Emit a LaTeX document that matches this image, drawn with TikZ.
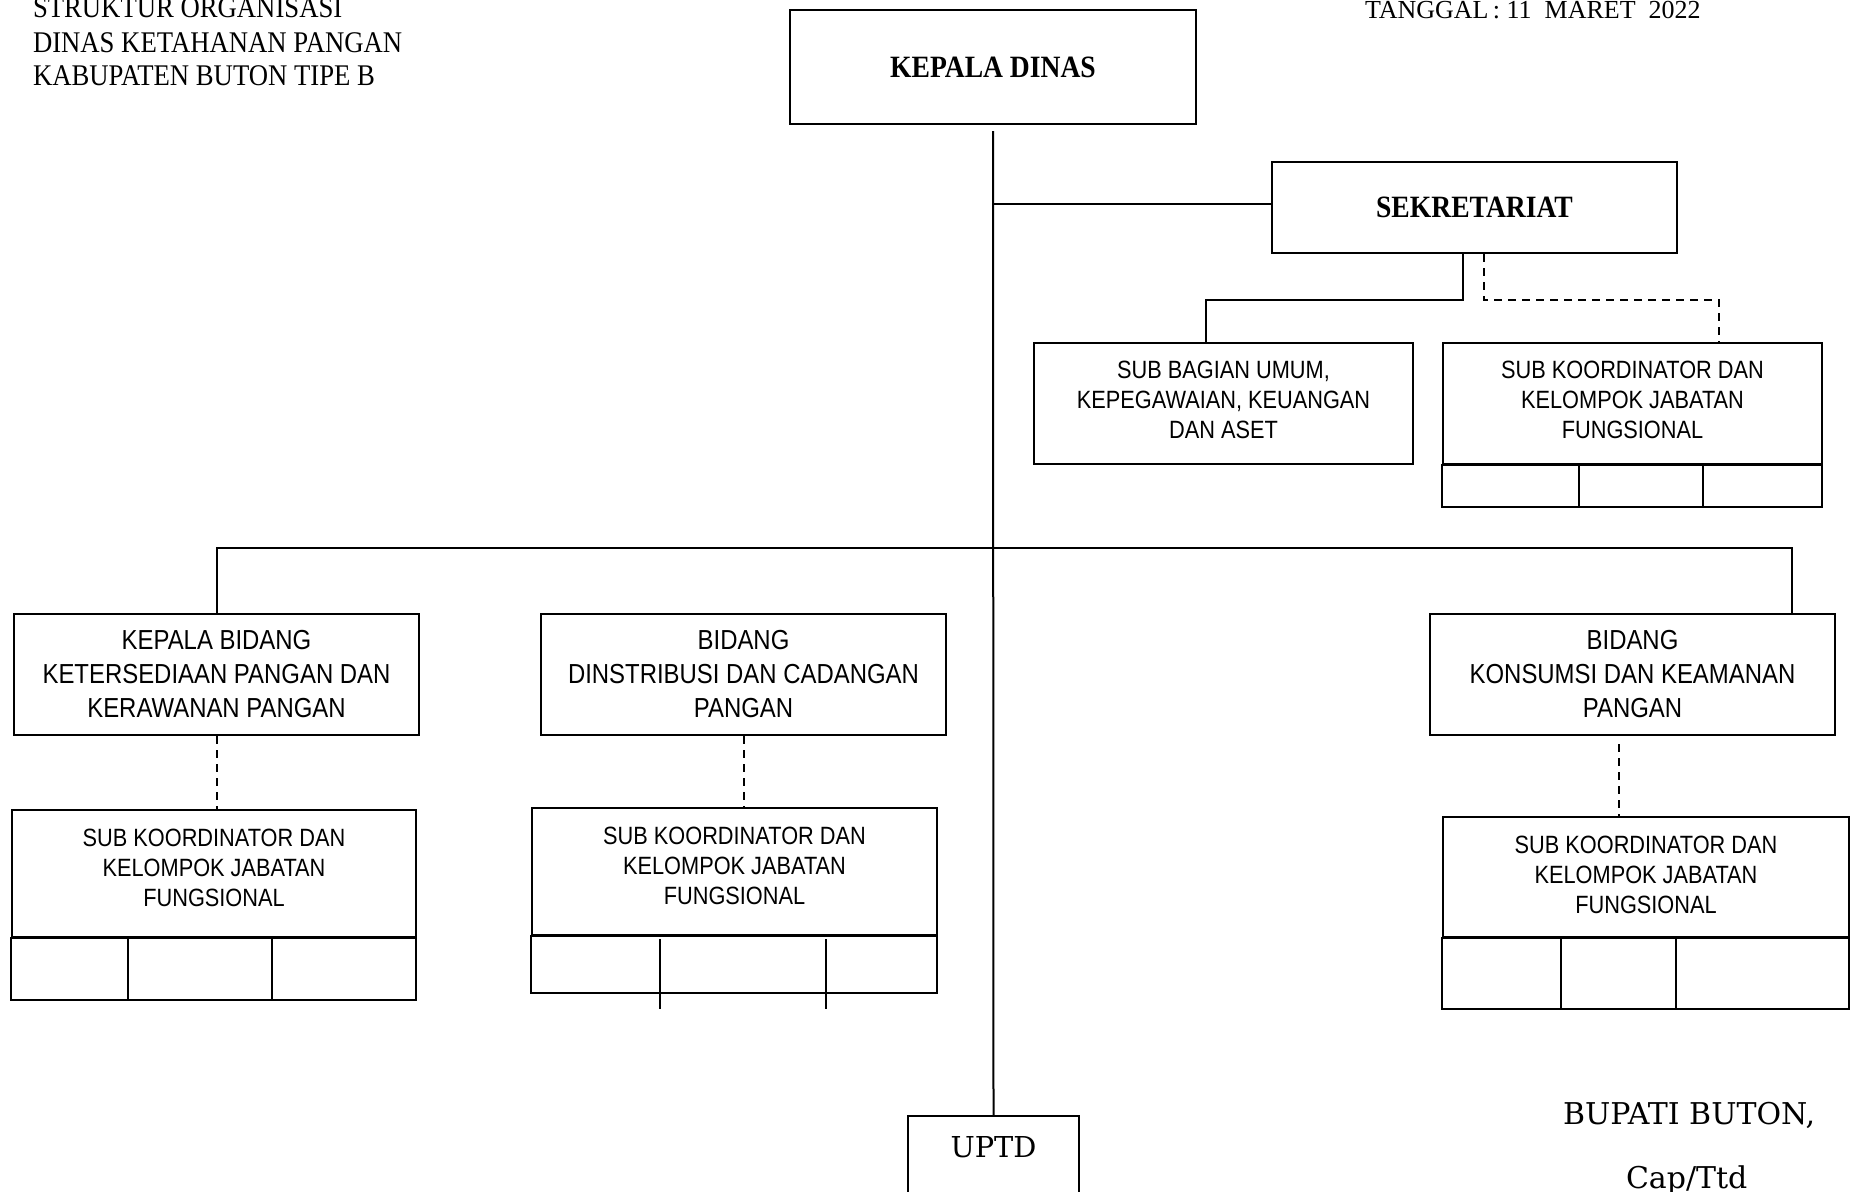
\documentclass[tikz,border=0pt]{standalone}
\usepackage{fontspec}
\setmainfont{Liberation Serif}
\newfontfamily\arialn[FakeStretch=0.87]{Liberation Sans}
\newfontfamily\cambria[FakeStretch=0.89]{Liberation Serif}
\newfontfamily\bookman{DejaVu Serif}
\usetikzlibrary{calc}
\tikzstyle{every path}=[line width=1pt]
\tikzstyle{kotak}=[draw, inner sep=0pt, align=center]
\tikzstyle{pimpinan}=[kotak, font=\cambria\bfseries\fontsize{15.5}{18}\selectfont]
\tikzstyle{bidang}=[kotak, minimum width=202.5pt, minimum height=60.5pt, font=\arialn\fontsize{13.75}{17}\selectfont]
\tikzstyle{subkoor}=[kotak, text depth=5pt, font=\arialn\fontsize{12.5}{15}\selectfont]
\tikzstyle{judul}=[anchor=base west, inner sep=0pt, font=\cambria\fontsize{15}{17}\selectfont]
\tikzstyle{ttd}=[anchor=base west, inner sep=0pt, font=\bookman\fontsize{15}{17}\selectfont]
\tikzstyle{putus}=[dash pattern=on 4pt off 3pt]

\begin{document}
\begin{tikzpicture}[x=0.5pt,y=-0.5pt]
          \useasboundingbox (0,0) rectangle (1852,1191);
          %judul
          \node[judul] (judul1) at (32,17) {STRUKTUR ORGANISASI};
          \node[judul] (judul2) at (32,52) {DINAS KETAHANAN PANGAN};
          \node[judul] (judul3) at (32,85) {KABUPATEN BUTON TIPE B};
          \node[judul, font=\rmfamily\fontsize{13}{15}\selectfont] (tanggal) at (1364,18) {TANGGAL\,: 11~~MARET~~2022};
          %pimpinan
          \node[pimpinan, minimum width=203pt, minimum height=57pt] (kadis) at (993,67) {KEPALA DINAS};
          \node[pimpinan, minimum width=202.5pt, minimum height=45.5pt] (sekr) at (1474.5,207.5) {SEKRETARIAT};
          %sekretariat
          \node[subkoor, text depth=3.5pt, minimum width=189.5pt, minimum height=60.5pt] (subum) at (1223.5,403.5) {SUB BAGIAN UMUM,\\KEPEGAWAIAN, KEUANGAN\\DAN ASET};
          \node[subkoor, text depth=3.5pt, minimum width=189.5pt, minimum height=60.5pt] (sksek) at (1632.5,403.5) {SUB KOORDINATOR DAN\\KELOMPOK JABATAN\\FUNGSIONAL};
          \draw (sksek.south west) rectangle (1822,507);
          \foreach \x in {1579,1703} \draw (\x,464) -- (\x,507);
          %bidang
          \node[bidang] (kabid1) at (216.5,674.5) {KEPALA BIDANG\\KETERSEDIAAN PANGAN DAN\\KERAWANAN PANGAN};
          \node[bidang] (bid2) at (743.5,674.5) {BIDANG\\DINSTRIBUSI DAN CADANGAN\\PANGAN};
          \node[bidang] (bid3) at (1632.5,674.5) {BIDANG\\KONSUMSI DAN KEAMANAN\\PANGAN};
          %sub koordinator
          \node[subkoor, text depth=6pt, minimum width=202pt, minimum height=63.5pt] (sk1) at (214,873.5) {SUB KOORDINATOR DAN\\KELOMPOK JABATAN\\FUNGSIONAL};
          \draw (sk1.south west) rectangle (416,1000);
          \foreach \x in {128,272} \draw (\x,937) -- (\x,1000);
          \node[subkoor, text depth=6pt, minimum width=202.5pt, minimum height=63.5pt] (sk2) at (734.5,871.5) {SUB KOORDINATOR DAN\\KELOMPOK JABATAN\\FUNGSIONAL};
          \draw (sk2.south west) rectangle (937,993);
          \foreach \x in {660,826} \draw (\x,939) -- (\x,1009);
          \node[subkoor, text depth=2pt, minimum width=203pt, minimum height=60pt] (sk3) at (1646,877) {SUB KOORDINATOR DAN\\KELOMPOK JABATAN\\FUNGSIONAL};
          \draw (sk3.south west) rectangle (1849,1009);
          \foreach \x in {1561,1676} \draw (\x,937) -- (\x,1009);
          %uptd
          \node[kotak, anchor=north, minimum width=85.5pt, inner ysep=10pt, text depth=40pt, font=\bookman\fontsize{14.4}{17}\selectfont] (uptd) at (993.5,1115) {UPTD};
          %tanda tangan
          \node[ttd] (bupati) at (1562,1124) {BUPATI BUTON,};
          \node[ttd] (capttd) at (1625,1188) {Cap/Ttd};
          %garis komando
          \draw ([yshift=-3pt]kadis.south) -- (uptd.north);
          \draw ([yshift=1.75pt]kadis.south |- sekr.west) -- ([yshift=1.75pt]sekr.west);
          \draw ([xshift=-5.75pt]sekr.south) -- ++(0,-23pt) -| ([xshift=-8.75pt]subum.north);
          \draw (kabid1.north) -- ++(0,32.5pt) -| ([xshift=79.75pt]bid3.north);
          %garis koordinasi
          \draw[putus] ([xshift=4.75pt]sekr.south) -- ++(0,-23pt) -| ([xshift=43.25pt]sksek.north);
          \draw[putus] (kabid1.south) -- (kabid1.south |- sk1.north);
          \draw[putus] (bid2.south) -- (bid2.south |- sk2.north);
          \draw[putus] ([xshift=-6.75pt,yshift=-4pt]bid3.south) -- ([xshift=-6.75pt]bid3.south |- sk3.north);
        \end{tikzpicture}
\end{document}
